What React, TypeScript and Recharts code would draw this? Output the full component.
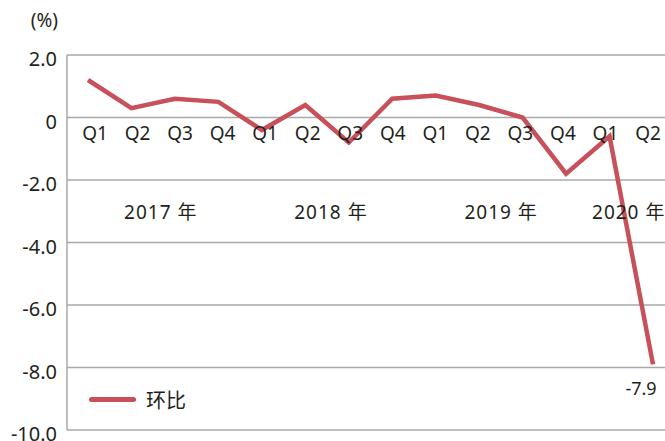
import { LineChart, Line, XAxis, YAxis, CartesianGrid, Legend, LabelList } from 'recharts';

const quarters = ['Q1', 'Q2', 'Q3', 'Q4', 'Q1', 'Q2', 'Q3', 'Q4', 'Q1', 'Q2', 'Q3', 'Q4', 'Q1', 'Q2'];
const years = ['2017', '2017', '2017', '2017', '2018', '2018', '2018', '2018', '2019', '2019', '2019', '2019', '2020', '2020'];
const qoq = [1.2, 0.3, 0.6, 0.5, -0.4, 0.4, -0.8, 0.6, 0.7, 0.4, 0.0, -1.8, -0.6, -7.9];
const yTicks = [2, 0, -2, -4, -6, -8, -10];
const seriesName = '环比';
const unitLabel = '(%)';

const W = 665;
const H = 441;
const X_H = 2;
const M = { top: 55, right: 0, left: 0, bottom: 11 - X_H };
const Y_W = 67;
// line points and the quarter labels sit on slightly different spacings in the original
const PAD = { left: 21, right: 12 };
const LBL_PAD = { left: 28, right: 17 };
const Y_MIN = -10;
const Y_MAX = 2;

const plotH = H - M.top - M.bottom - X_H;
const zeroY = M.top + ((Y_MAX - 0) / (Y_MAX - Y_MIN)) * plotH;
const lblStep = (W - M.left - M.right - Y_W - LBL_PAD.left - LBL_PAD.right) / (quarters.length - 1);

const data = quarters.map((q, i) => ({ key: `${years[i]}${q}`, q, year: years[i], value: qoq[i] }));

const FONT = '"Noto Sans", "Noto Sans CJK SC", sans-serif';
const TEXT = '#231f20';
const GRID = '#a7a9ac';
const RED = '#c8505a';

function QuarterTick(props: any) {
  const { x, payload } = props;
  const idx = data.findIndex((r) => r.key === payload?.value);
  const d = data[idx];
  if (!d) return null;
  const first = idx === 0 || data[idx - 1].year !== d.year;
  const n = data.filter((r) => r.year === d.year).length;
  return (
    <g>
      <text x={x} y={zeroY + 22} textAnchor="middle" fontSize={19} fill={TEXT} fontFamily={FONT}>
        {d.q}
      </text>
      {first && (
        <text
          x={x + ((n - 1) / 2) * lblStep + 2}
          y={zeroY + 101}
          textAnchor="middle"
          fontSize={19}
          letterSpacing={1}
          fill={TEXT}
          fontFamily={FONT}
        >
          {`${d.year} 年`}
        </text>
      )}
    </g>
  );
}

function ValueTick(props: any) {
  const { x, y, payload } = props;
  const v = Number(payload.value);
  const label = v === 0 ? '0' : v.toFixed(1);
  return (
    <text x={x - 2} y={y + 11} textAnchor="end" fontSize={20} fill={TEXT} fontFamily={FONT}>
      {label}
    </text>
  );
}

function LastLabel(props: any) {
  const { x, y, value, index } = props;
  if (index !== data.length - 1) return null;
  return (
    <text x={x - 12} y={y + 31} textAnchor="middle" fontSize={18} fill={TEXT} fontFamily={FONT}>
      {Number(value).toFixed(1)}
    </text>
  );
}

function LegendBox() {
  return (
    <div style={{ display: 'flex', alignItems: 'center', fontFamily: FONT, color: TEXT }}>
      <div style={{ width: 47, height: 5, borderRadius: 3, background: RED }} />
      <span style={{ marginLeft: 10, fontSize: 20 }}>{seriesName}</span>
    </div>
  );
}

export default function App() {
  return (
    <div style={{ position: 'absolute', left: 0, top: 0, width: W, height: H, background: '#fff' }}>
      <div
        style={{
          position: 'absolute',
          left: 0,
          top: 7,
          width: 58,
          textAlign: 'right',
          fontSize: 19,
          fontFamily: FONT,
          color: TEXT,
        }}
      >
        {unitLabel}
      </div>
      <LineChart width={W} height={H} data={data} margin={M}>
        <CartesianGrid vertical={false} stroke={GRID} strokeWidth={1.5} />
        <XAxis dataKey="key" hide padding={PAD} />
        <XAxis
          xAxisId="lbl"
          dataKey="key"
          height={X_H}
          axisLine={false}
          tickLine={false}
          interval={0}
          padding={LBL_PAD}
          tick={QuarterTick}
        />
        <YAxis
          width={Y_W}
          domain={[Y_MIN, Y_MAX]}
          ticks={yTicks}
          interval={0}
          axisLine={{ stroke: GRID, strokeWidth: 1.5 }}
          tickLine={false}
          tick={ValueTick}
        />
        <Legend
          layout="vertical"
          align="center"
          verticalAlign="middle"
          wrapperStyle={{ left: 89, top: 385, width: 'auto' }}
          content={() => <LegendBox />}
        />
        <Line
          type="linear"
          dataKey="value"
          name={seriesName}
          stroke={RED}
          strokeWidth={4.5}
          strokeLinejoin="miter"
          dot={false}
          activeDot={false}
          isAnimationActive={false}
        >
          <LabelList dataKey="value" content={LastLabel} />
        </Line>
      </LineChart>
    </div>
  );
}
